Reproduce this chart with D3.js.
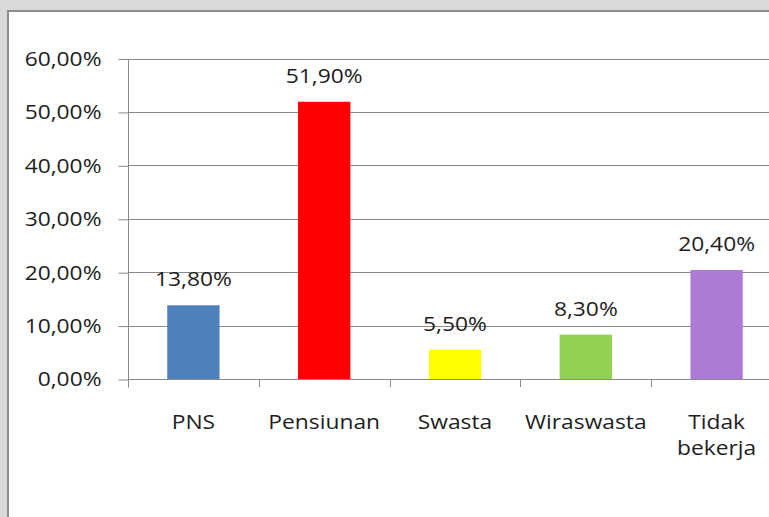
<!DOCTYPE html>
<html>
<head>
<meta charset="utf-8">
<script src="https://cdn.jsdelivr.net/npm/d3@7"></script>
<style>
  html, body { margin: 0; overflow: hidden; background: #fff; }
  svg { display: block; overflow: hidden; }
  text { font-family: "Open Sans", sans-serif; font-size: 20px; fill: #1e1e1e; }
</style>
</head>
<body>
<svg width="769" height="517"></svg>
<script>
var categories = ['PNS', 'Pensiunan', 'Swasta', 'Wiraswasta', 'Tidak bekerja'];
var values = [13.8, 51.9, 5.5, 8.3, 20.4];
var colors = ['#4f81bd', '#ff0000', '#ffff00', '#92d050', '#ad7bd5'];
var yTicks = [0, 10, 20, 30, 40, 50, 60];

var sx = 1.14; // fonts run wide in the original
var fmt = (v) => v.toFixed(2).replace('.', ',') + '%';

var svg = d3.select('svg');

// frame: grey page strips on top and left, white chart area
svg.append('rect').attr('width', 769).attr('height', 11).attr('fill', '#d9d9d9');
svg.append('rect').attr('width', 8).attr('height', 517).attr('fill', '#d9d9d9');
svg.append('path').attr('d', 'M8,517V11H769')
    .attr('fill', 'none').attr('stroke', '#8c8c8c').attr('stroke-width', 2);

var x = d3.scaleBand()
    .domain(categories)
    .range([128, 782]);

var y = d3.scaleLinear()
    .domain([0, 60])
    .range([379, 58.5]);

// gridlines
svg.append('g')
    .selectAll('line')
    .data(yTicks)
    .join('line')
    .attr('x1', 128).attr('x2', 769)
    .attr('y1', d => Math.round(y(d)) + 0.5).attr('y2', d => Math.round(y(d)) + 0.5)
    .attr('stroke', '#8a8a8a');

// y axis
var gy = svg.append('g')
    .attr('transform', 'translate(128.5,0.5)')
    .call(d3.axisLeft(y).tickValues(yTicks).tickSize(10).tickFormat(fmt));
gy.select('.domain').attr('stroke', '#8a8a8a').attr('d', 'M0,' + y(60) + 'V' + (y(0) + 8));
gy.selectAll('.tick line').attr('stroke', '#8a8a8a');
gy.selectAll('.tick text')
    .attr('x', -27 / sx)
    .attr('transform', 'scale(' + sx + ',1)')
    .style('font-family', '"Open Sans", sans-serif').style('font-size', '20px').attr('fill', '#1e1e1e');

// x axis ticks at band edges
svg.append('g')
    .selectAll('line')
    .data(categories)
    .join('line')
    .attr('x1', d => Math.round(x(d)) + 0.5).attr('x2', d => Math.round(x(d)) + 0.5)
    .attr('y1', y(0)).attr('y2', y(0) + 8)
    .attr('stroke', '#8a8a8a');

// bars
var bw = x.bandwidth() * 0.4;
svg.append('g')
    .selectAll('rect')
    .data(values)
    .join('rect')
    .attr('x', (d, i) => x(categories[i]) + x.bandwidth() / 2 - bw / 2)
    .attr('width', bw)
    .attr('y', d => y(d))
    .attr('height', d => y(0) - y(d))
    .attr('fill', (d, i) => colors[i]);

// value labels
svg.append('g')
    .selectAll('g')
    .data(values)
    .join('g')
    .attr('transform', (d, i) => 'translate(' + (x(categories[i]) + x.bandwidth() / 2) + ',' + (y(d) - 19) + ') scale(' + sx + ',1)')
    .append('text')
    .attr('text-anchor', 'middle')
    .text(fmt);

// category labels
var cl = svg.append('g')
    .selectAll('g')
    .data(categories)
    .join('g')
    .attr('transform', d => 'translate(' + (x(d) + x.bandwidth() / 2) + ',429) scale(' + sx + ',1)')
    .append('text')
    .attr('text-anchor', 'middle');
cl.selectAll('tspan')
    .data(d => d.split(' '))
    .join('tspan')
    .attr('x', 0)
    .attr('dy', (d, i) => i ? 26 : 0)
    .text(d => d);
</script>
</body>
</html>
